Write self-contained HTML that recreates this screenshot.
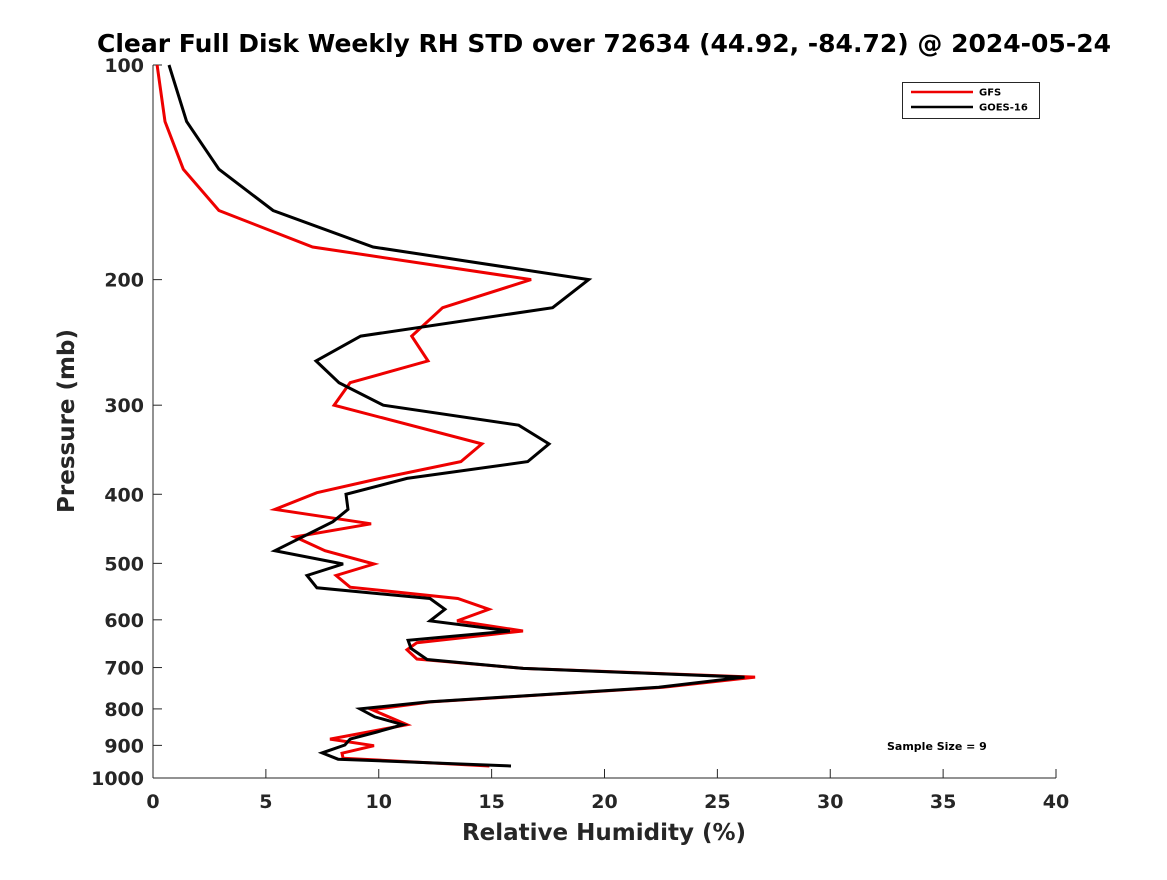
<!DOCTYPE html>
<html><head><meta charset="utf-8"><style>
body{margin:0;background:#fff}
svg text{font-family:"DejaVu Sans","Liberation Sans",sans-serif;font-weight:bold;fill:#262626}
</style></head><body>
<svg id="chart" width="1167" height="875" viewBox="0 0 1167 875">
<rect width="1167" height="875" fill="#fff"/>
<text x="604" y="52" font-size="25" text-anchor="middle" fill="#000" style="fill:#000">Clear Full Disk Weekly RH STD over 72634 (44.92, -84.72) @ 2024-05-24</text>
<g id="axes"></g>
<g id="series"></g>
<text x="604" y="840" font-size="23" text-anchor="middle">Relative Humidity (%)</text>
<text transform="translate(74,421) rotate(-90)" font-size="23" text-anchor="middle">Pressure (mb)</text>
<g>
<rect x="902.5" y="82.5" width="137" height="36" fill="#fff" stroke="#262626" stroke-width="1"/>
<line x1="911" y1="92" x2="973" y2="92" stroke="#e00" stroke-width="2.5"/>
<text x="979" y="95.5" font-size="10" fill="#000" style="fill:#000">GFS</text>
<line x1="911" y1="107" x2="973" y2="107" stroke="#000" stroke-width="2.5"/>
<text x="979" y="110.5" font-size="10" fill="#000" style="fill:#000">GOES-16</text>
</g>
<text x="887" y="750" font-size="11" fill="#000" style="fill:#000">Sample Size = 9</text>
</svg>
<script>
const xTicks=[0,5,10,15,20,25,30,35,40];
const yTicks=[100,200,300,400,500,600,700,800,900,1000];
const gfsP=[100,120,140,160,180,200,219,240,260,279,300,340,360,380,398,420,440,459,480,501,520,540,560,580,602,622,646,661,681,702,722,746,782,802,842,882,901,923,938,962];
const gfsV=[0.18,0.53,1.34,2.92,7.07,16.75,12.83,11.46,12.18,8.73,8.02,14.57,13.64,10.06,7.26,5.40,9.66,6.29,7.62,9.79,8.11,8.73,13.5,14.88,13.47,16.39,11.69,11.25,11.69,16.4,26.67,22.6,12.3,9.7,11.25,7.84,9.79,8.37,8.42,14.9];
const goesP=[100,120,140,160,180,200,219,240,260,279,300,320,340,360,380,400,420,437,480,501,520,541,560,580,602,622,641,658,682,702,722,746,782,800,821,842,862,882,899,922,941,962];
const goesV=[0.71,1.49,2.92,5.32,9.75,19.3,17.7,9.2,7.22,8.24,10.2,16.2,17.54,16.6,11.25,8.55,8.64,7.97,5.40,8.42,6.82,7.26,12.27,12.93,12.27,15.81,11.3,11.43,12.14,16.4,26.2,22.4,12.2,9.17,9.83,11.07,9.92,8.73,8.5,7.49,8.2,15.86];
const L=153,R=1056,T=65,B=778;
const xs=v=>L+(v-0)/(40-0)*(R-L);
const ys=p=>T+Math.log10(p/100)*(B-T);
const NS='http://www.w3.org/2000/svg';
function mk(tag,attrs,parent){const e=document.createElementNS(NS,tag);for(const k in attrs)e.setAttribute(k,attrs[k]);parent.appendChild(e);return e;}
const ax=document.getElementById('axes');
let e=mk('line',{x1:L,y1:T,x2:L,y2:B,stroke:'#262626','stroke-width':1},ax);


e=mk('line',{x1:L,y1:B,x2:R,y2:B,stroke:'#262626','stroke-width':1},ax);


xTicks.forEach(v=>{const x=xs(v);
 let t=mk('line',{x1:x,y1:B,x2:x,y2:B-9,stroke:'#262626','stroke-width':1},ax);
 
 
 let l=mk('text',{x:x,y:808,'font-size':19,'text-anchor':'middle'},ax);l.textContent=v;
 
 
});
yTicks.forEach(p=>{const y=ys(p);
 let t=mk('line',{x1:L,y1:y,x2:L+9,y2:y,stroke:'#262626','stroke-width':1},ax);
 
 
 let l=mk('text',{x:144,y:y+7,'font-size':19,'text-anchor':'end'},ax);l.textContent=p;
 
 
});
const sg=document.getElementById('series');
function line(P,V,color,name){
 const pts=P.map((p,i)=>xs(V[i]).toFixed(1)+','+ys(p).toFixed(1)).join(' ');
 const pl=mk('polyline',{points:pts,fill:'none',stroke:color,'stroke-width':3,'stroke-linejoin':'miter'},sg);
 
 
}
line(gfsP,gfsV,'#e00','gfs-line');
line(goesP,goesV,'#000','goes16-line');
</script>
</body></html>
